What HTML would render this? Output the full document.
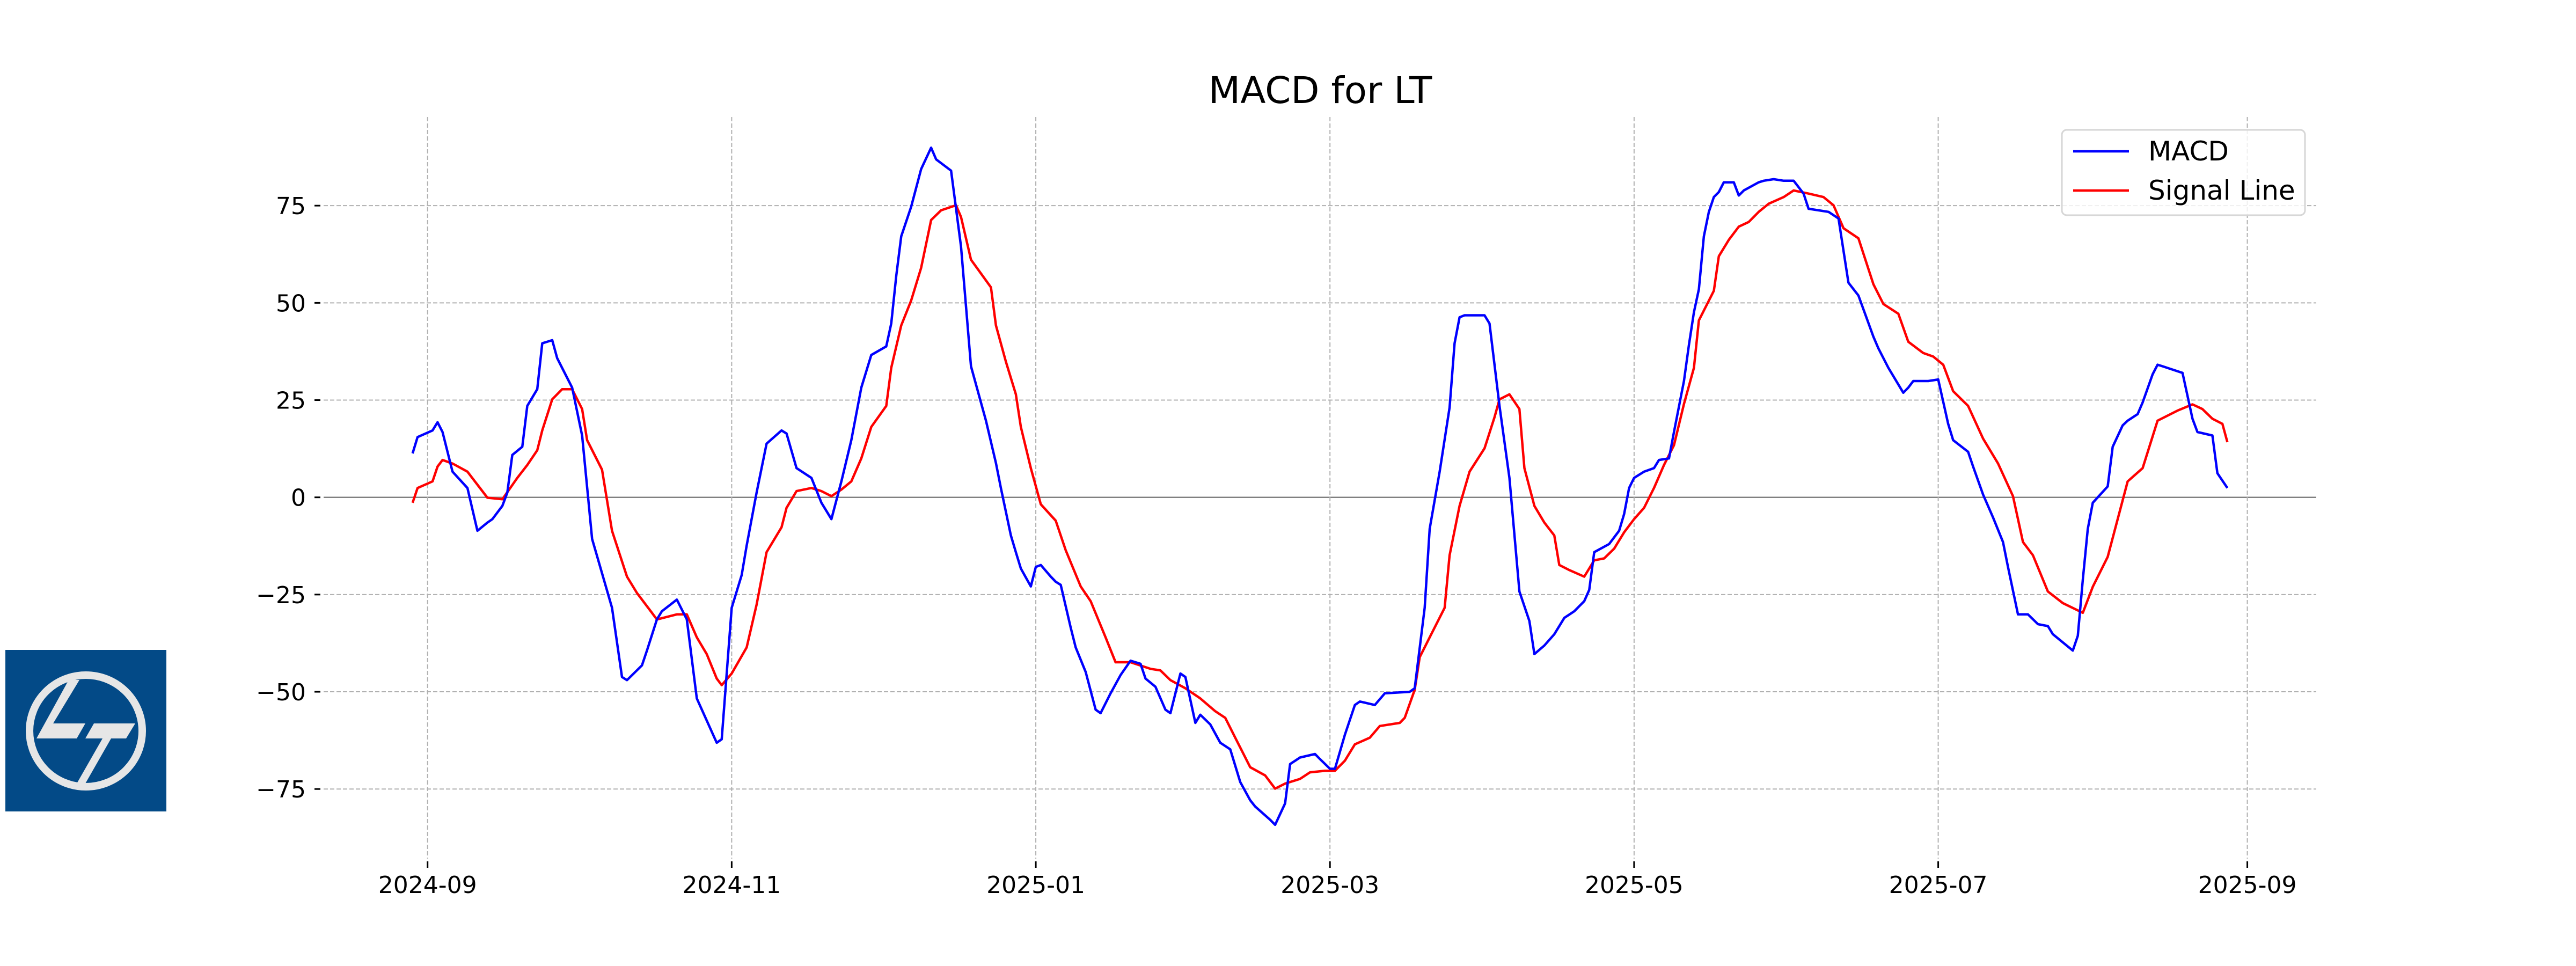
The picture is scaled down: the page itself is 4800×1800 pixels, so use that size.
<!DOCTYPE html>
<html><head><meta charset="utf-8"><style>
html,body{margin:0;padding:0;background:#fff;}
svg{display:block;font-family:"DejaVu Sans","Liberation Sans",sans-serif;}
</style></head><body>
<svg id="chart" width="4800" height="1800" viewBox="0 0 4800 1800" xmlns="http://www.w3.org/2000/svg">
<rect width="4800" height="1800" fill="#fff"/>
<g>
<rect x="10" y="1211" width="300" height="301" fill="#034a87"/>
<ellipse cx="160" cy="1362" rx="105" ry="104" fill="none" stroke="#e6e6e6" stroke-width="14"/>
<polygon points="128,1267 148,1267 99,1348 159,1348 143,1376 68,1376" fill="#e6e6e6"/>
<polygon points="175,1348 252,1348 235,1376 207,1376 159,1460 143,1460 191,1376 159,1376" fill="#e6e6e6"/>
</g>
<text x="2460" y="192" font-size="69" text-anchor="middle" fill="#000">MACD for LT</text>
<g id="grid"></g>
<g id="axes"></g>
<g id="series"></g>
<g>
<rect x="3842" y="242" width="453" height="159" rx="9" fill="#fff" fill-opacity="0.8" stroke="#d6d6d6" stroke-width="3"/>
<line x1="3863" y1="282" x2="3967" y2="282" stroke="#0000ff" stroke-width="4.5"/>
<text x="4003" y="299" font-size="50">MACD</text>
<line x1="3863" y1="355" x2="3967" y2="355" stroke="#ff0000" stroke-width="4.5"/>
<text x="4003" y="372" font-size="50">Signal Line</text>
</g>
</svg>
<script>
// days since 2024-09-01
const macdDays=[-3,-2,1,2,3,5,8,10,12,13,15,16,17,19,20,22,23,25,26,29,31,33,37,39,40,43,44,46,47,50,52,54,58,59,61,63,64,66,68,71,72,74,77,79,81,83,85,87,88,89,92,93,94,95,97,99,101,102,105,107,109,112,114,115,117,118,119,121,122,123,125,126,127,129,130,132,134,135,137,139,141,143,144,146,148,149,151,152,154,155,157,159,161,163,165,166,169,170,172,173,175,178,179,181,182,184,186,187,190,192,197,198,200,201,203,205,206,207,208,212,213,215,217,219,221,222,224,226,228,230,232,233,234,237,239,240,241,242,244,246,247,249,250,252,253,254,255,256,257,258,259,260,262,263,264,267,268,270,272,274,276,277,279,281,283,285,287,290,291,293,296,297,298,301,303,305,306,309,310,312,314,316,317,319,321,323,325,326,328,330,331,332,333,334,337,338,340,341,343,344,346,347,348,352,354,355,358,359,361];
const macdValues=[11.3,15.5,17.2,19.3,16.8,6.6,2.4,-8.6,-6.5,-5.6,-2.2,1.2,10.9,13.0,23.5,27.8,39.6,40.4,35.8,28.2,15.9,-10.7,-28.4,-46.2,-47.0,-43.2,-39.4,-31.4,-29.3,-26.3,-31.4,-51.7,-63.1,-62.2,-28.4,-20.0,-12.4,1.2,13.8,17.2,16.4,7.5,5.0,-1.4,-5.6,4.1,14.7,28.2,32.4,36.6,38.8,44.7,56.9,67.1,74.7,84.4,89.9,86.9,84.0,64.5,33.7,19.7,8.8,2.4,-9.8,-14.1,-18.3,-22.9,-17.9,-17.4,-20.4,-21.7,-22.5,-33.5,-38.6,-44.9,-54.6,-55.5,-50.4,-45.7,-42.0,-42.8,-46.6,-48.7,-54.6,-55.5,-45.3,-46.2,-58.0,-55.9,-58.4,-63.1,-64.8,-73.2,-77.9,-79.5,-82.9,-84.2,-78.7,-68.6,-66.9,-66.0,-67.3,-69.8,-69.8,-61.0,-53.4,-52.5,-53.4,-50.4,-50.0,-49.1,-28.4,-8.1,6.6,23.1,39.6,46.3,46.8,46.8,44.7,23.5,5.0,-24.2,-31.8,-40.3,-38.1,-35.2,-31.0,-29.3,-26.7,-23.8,-14.1,-12.0,-8.6,-4.3,2.4,5.0,6.6,7.5,9.6,10.0,16.8,29.9,39.2,47.6,53.5,67.1,73.4,77.2,78.5,81.0,81.0,77.6,78.9,81.0,81.4,81.8,81.4,81.4,78.1,74.2,73.8,73.4,71.7,55.2,51.9,41.3,38.3,33.3,26.9,28.2,29.9,29.9,30.3,18.9,14.7,11.7,7.9,0.7,-5.2,-11.5,-17.9,-30.1,-30.1,-32.6,-33.1,-35.2,-37.3,-39.4,-35.6,-21.2,-8.1,-1.4,2.8,13.0,18.5,19.7,21.4,24.4,31.6,34.1,33.7,32.0,20.2,16.8,15.9,6.2,2.4];
const signalDays=[-3,-2,1,2,3,5,8,12,15,18,20,22,23,25,27,29,31,32,35,37,40,42,45,46,50,52,54,56,58,59,61,64,66,68,71,72,74,77,79,81,83,85,87,89,92,93,95,97,99,101,103,106,107,109,113,114,116,118,119,121,123,126,128,131,133,136,138,141,145,147,149,152,155,158,160,162,165,168,170,172,175,177,180,182,184,186,189,191,195,196,198,199,201,204,205,207,209,212,214,215,217,219,220,222,224,226,227,229,232,234,236,238,240,242,244,246,248,250,252,254,255,258,259,261,263,265,267,269,272,274,277,280,282,284,287,290,292,295,297,300,302,304,306,309,312,315,318,320,322,325,328,332,334,337,341,344,347,351,354,356,358,360,361];
const signalValues=[-1.4,2.4,4.1,7.9,9.6,8.7,6.6,-0.1,-0.5,5.0,8.3,12.1,17.2,25.2,27.8,27.8,22.7,14.7,7.1,-8.6,-20.4,-24.6,-29.7,-31.4,-30.1,-30.1,-36.0,-40.3,-46.6,-48.3,-45.3,-38.6,-27.6,-14.1,-7.7,-2.7,1.6,2.4,1.6,0.3,2.0,4.1,10.0,18.1,23.5,33.3,44.2,50.6,59.0,71.3,73.8,75.1,72.1,61.1,54.0,44.2,34.9,26.5,18.1,7.5,-1.8,-6.0,-13.6,-22.9,-26.7,-36.0,-42.4,-42.4,-44.1,-44.5,-47.0,-49.1,-51.7,-55.0,-56.7,-61.8,-69.4,-71.5,-74.9,-73.6,-72.4,-70.7,-70.3,-70.3,-67.7,-63.5,-61.8,-58.8,-58.0,-56.7,-49.5,-41.1,-36.0,-28.4,-14.9,-2.2,6.6,12.6,20.6,25.2,26.5,22.7,7.5,-2.2,-6.5,-9.8,-17.4,-18.7,-20.4,-16.2,-15.7,-13.2,-9.0,-5.6,-2.7,2.4,8.3,13.4,24.0,33.3,45.5,53.1,62.0,66.2,69.6,70.8,73.4,75.5,77.2,78.9,78.1,77.2,75.1,69.2,66.6,54.8,49.7,47.2,40.0,37.1,36.2,34.1,27.3,23.5,15.1,8.7,0.3,-11.5,-14.9,-24.2,-27.2,-29.7,-23.0,-15.3,4.1,7.5,19.7,22.3,23.9,22.7,20.2,18.9,14.2];
const xTickLabels=["2024-09","2024-11","2025-01","2025-03","2025-05","2025-07","2025-09"];
const xTickDays=[0,61,122,181,242,303,365];
const yTickValues=[-75,-50,-25,0,25,50,75];

const NS="http://www.w3.org/2000/svg";
const L=603,R=4316,T=218,B=1600;
function xs(d){return 796.7+d*9.290;}
function ys(v){return 926.7-v*7.247;}
function mk(tag,attrs,parent){const e=document.createElementNS(NS,tag);for(const k in attrs)e.setAttribute(k,attrs[k]);parent.appendChild(e);return e;}
const grid=document.getElementById('grid'),axes=document.getElementById('axes'),series=document.getElementById('series');
yTickValues.forEach(v=>{
  const y=ys(v);
  const g=mk('line',{x1:L,x2:R,y1:y,y2:y,stroke:v===0?'#808080':'#b0b0b0','stroke-width':v===0?2.5:2,'stroke-dasharray':v===0?'none':'8,4'},grid);
  
  
  const t=mk('line',{x1:586,x2:597,y1:y,y2:y,stroke:'#000','stroke-width':3},axes);
  
  
  const tx=mk('text',{x:570,y:y+16,'font-size':44,'text-anchor':'end'},axes);
  
  
  tx.textContent=v<0?'\u2212'+Math.abs(v):String(v);
});
xTickDays.forEach((d,i)=>{
  const x=xs(d);
  const g=mk('line',{x1:x,x2:x,y1:T,y2:B,stroke:'#b0b0b0','stroke-width':2,'stroke-dasharray':'8,4'},grid);
  
  
  const t=mk('line',{x1:x,x2:x,y1:1605,y2:1617,stroke:'#000','stroke-width':3},axes);
  
  
  const tx=mk('text',{x:x,y:1664,'font-size':44,'text-anchor':'middle'},axes);
  
  
  tx.textContent=xTickLabels[i];
});
function line(days,vals,color,name){
  const pts=days.map((d,i)=>xs(d).toFixed(1)+','+ys(vals[i]).toFixed(1)).join(' ');
  const p=mk('polyline',{points:pts,fill:'none',stroke:color,'stroke-width':4.5,'stroke-linejoin':'round'},series);
  
  
}
line(signalDays,signalValues,'#ff0000','signal-line');
line(macdDays,macdValues,'#0000ff','macd-line');
</script>
</body></html>
